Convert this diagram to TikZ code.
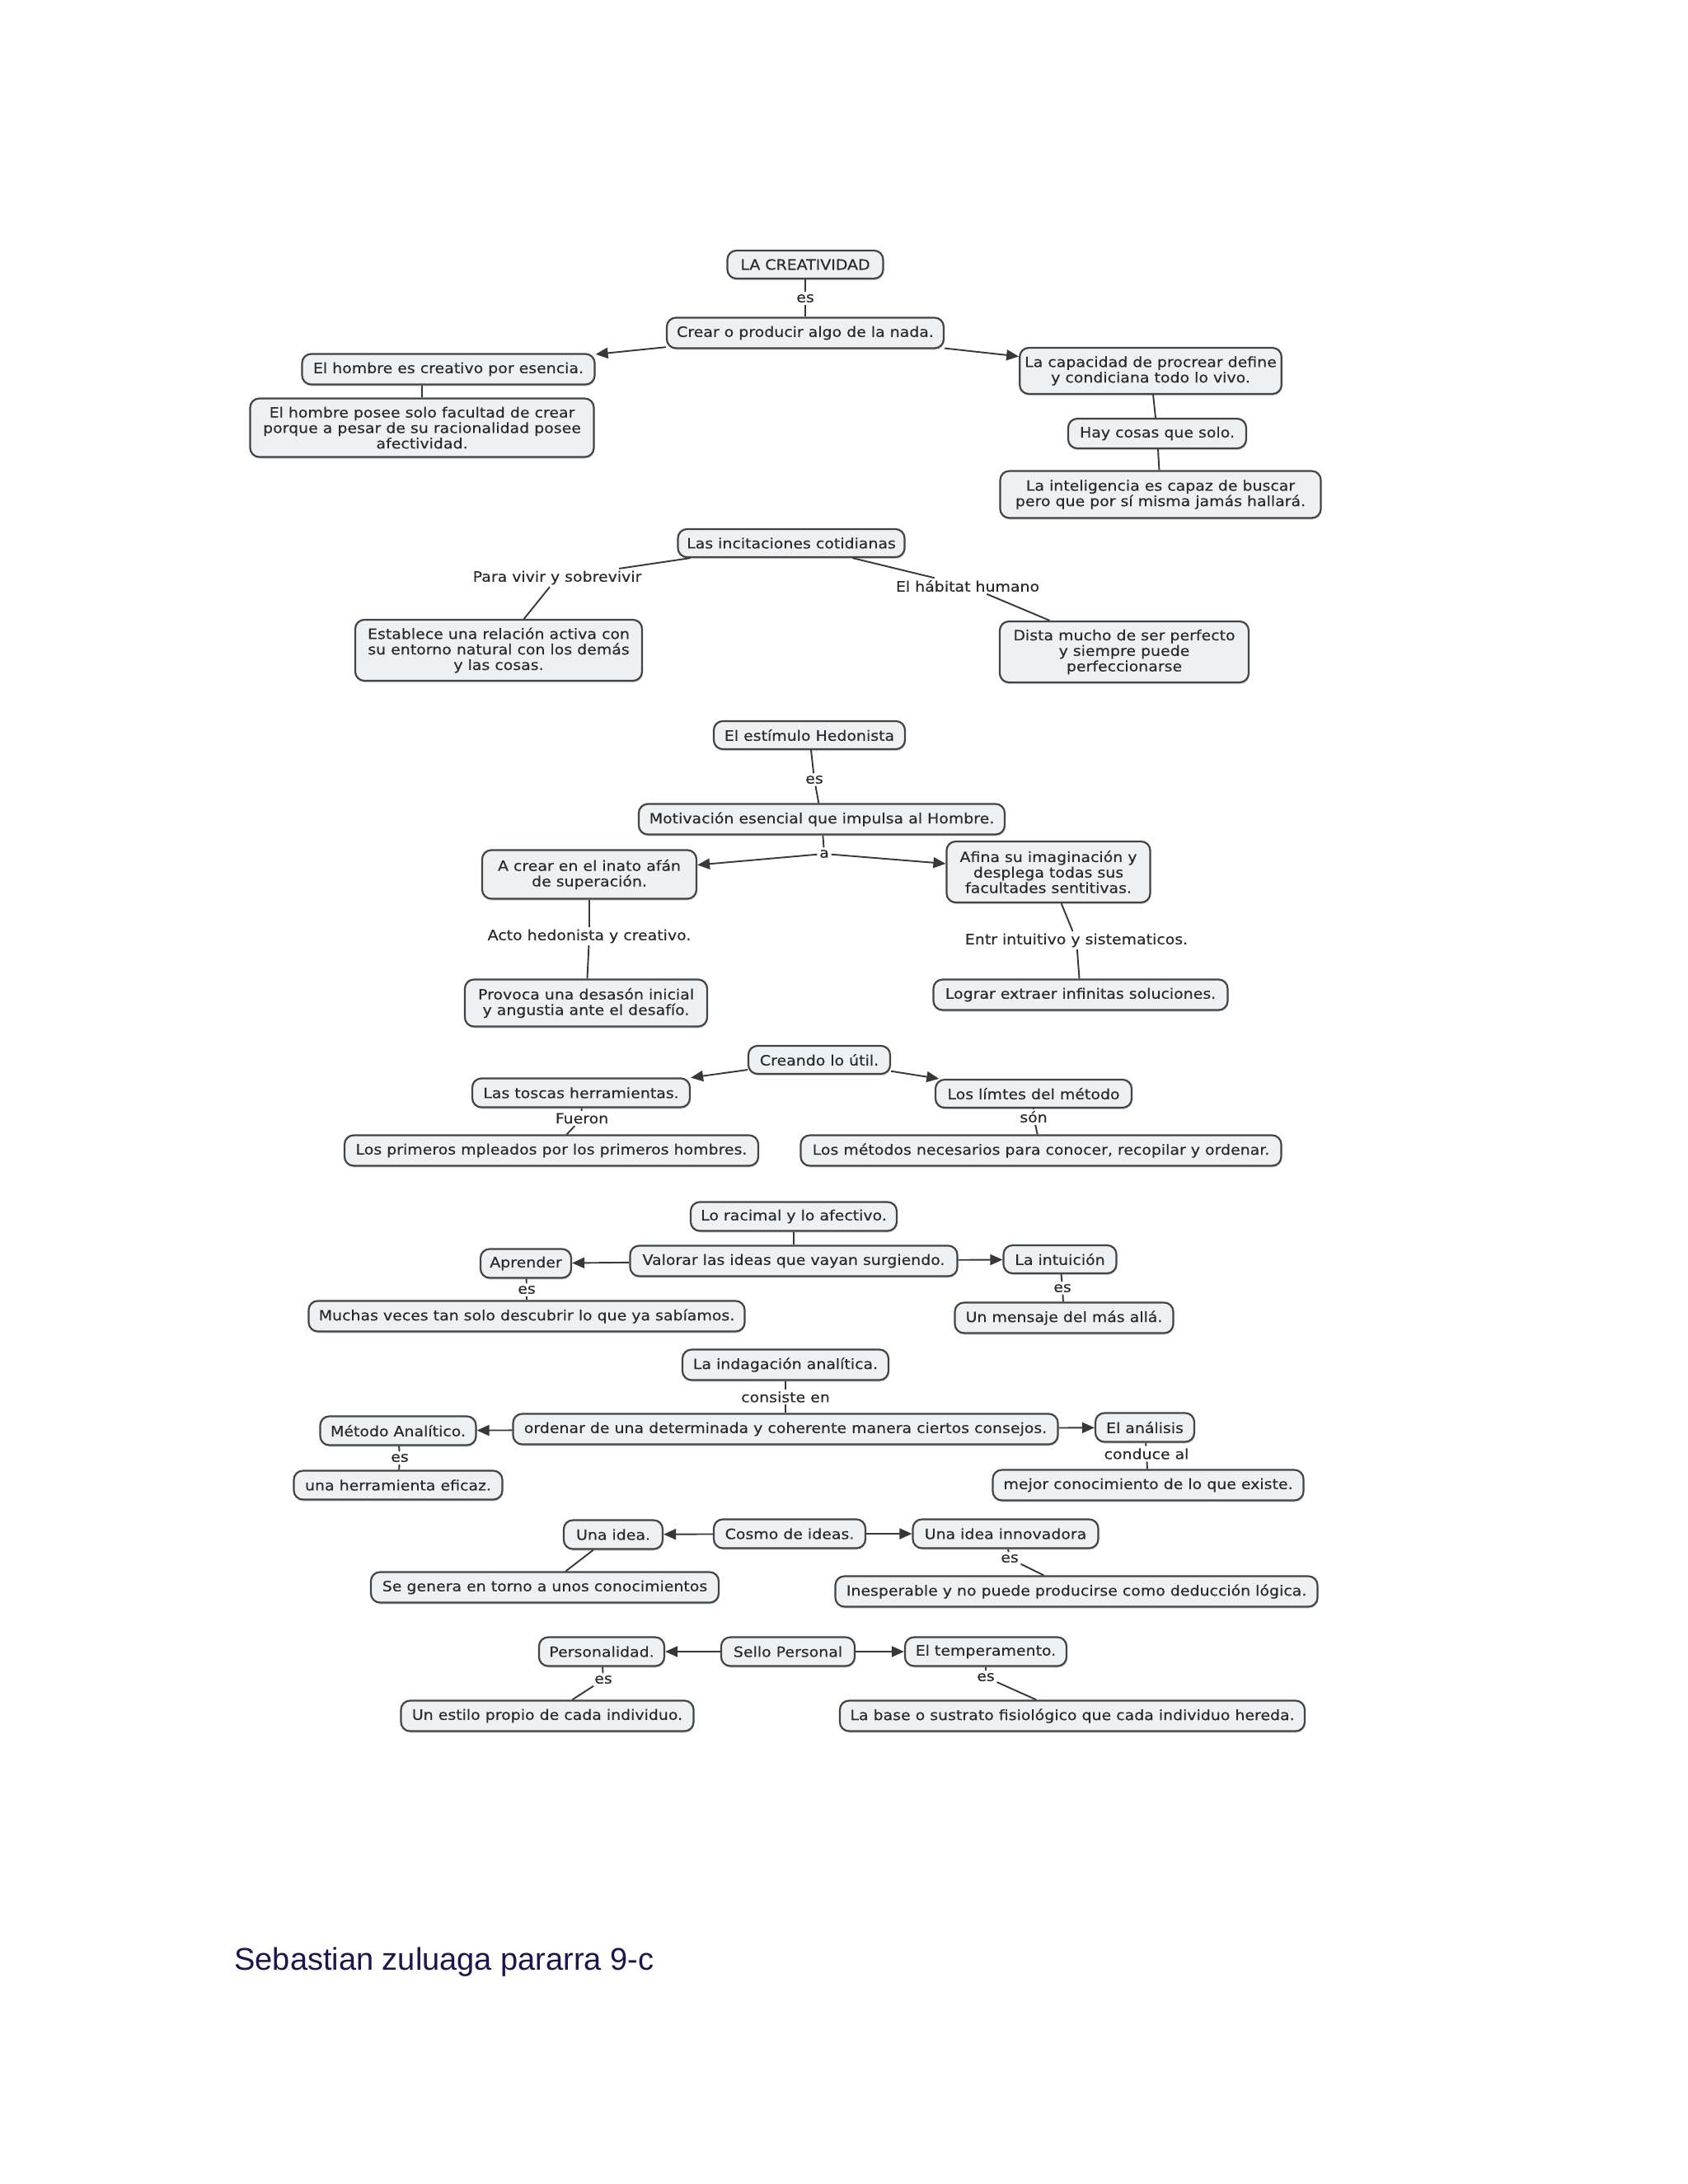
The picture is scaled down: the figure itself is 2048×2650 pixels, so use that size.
\documentclass[tikz,border=0pt]{standalone}
\usepackage{fontspec}
\setmainfont{DejaVu Sans}[FakeStretch=1.1,FakeBold=0.35]
\newfontfamily\footfont{Liberation Sans}
\usetikzlibrary{arrows.meta,shadows}
\definecolor{boxfill}{HTML}{EDF1F3}
\definecolor{boxline}{HTML}{444444}
\definecolor{txt}{HTML}{2A2A2A}
\definecolor{lnk}{HTML}{383838}
\definecolor{navy}{HTML}{1B1650}
\begin{document}
\begin{tikzpicture}[x=0.5pt,y=-0.5pt,
  cbox/.style={draw=boxline, fill=boxfill, line width=1.1pt, rounded corners=5.5pt,
    align=center, text=txt, inner xsep=3pt, inner ysep=1pt,
    font=\fontsize{8.6}{9.4}\selectfont,
    drop shadow={shadow xshift=0.4pt, shadow yshift=-1pt, opacity=0.35}},
  sz/.style 2 args={minimum width=#1*0.5pt, minimum height=#2*0.5pt},
  lbl/.style={text=txt, font=\fontsize{8.6}{9.4}\selectfont, inner sep=1.2pt},
  con/.style={draw=lnk, line width=0.95pt},
  arr/.style={con, -{Triangle[length=7.5pt,width=6.5pt]}}]
\fill[white] (0,0) rectangle (2048,2650);
\useasboundingbox (0,0) rectangle (2048,2650);

% ---------- Section 1
\node[cbox, sz={189}{34}] (c1) at (977,321) {LA CREATIVIDAD};
\node[lbl] (lc1) at (977,362) {es};
\node[cbox, sz={336}{37}] (c2) at (977,404) {Crear o producir algo de la nada.};
\node[cbox, sz={355}{37}] (c3) at (544,448) {El hombre es creativo por esencia.};
\node[cbox, sz={417}{71}] (c4) at (512,519) {El hombre posee solo facultad de crear\\porque a pesar de su racionalidad posee\\afectividad.};
\node[cbox, sz={299}{56}] (c5) at (1396,450) {La capacidad de procrear define\\y condiciana todo lo vivo.};
\node[cbox, sz={216}{36}] (c6) at (1404,526) {Hay cosas que solo.};
\node[cbox, sz={389}{57}] (c7) at (1408,600) {La inteligencia es capaz de buscar\\pero que por sí misma jamás hallará.};
\draw[con] (c1) -- (lc1);
\draw[con] (lc1) -- (c2);
\draw[arr] (c2) -- (c3);
\draw[arr] (c2) -- (c5);
\draw[con] (c4.north) -- (c4.north |- c3.south);
\draw[con] (c5) -- (c6);
\draw[con] (c6) -- (c7);

% ---------- Section 2
\node[cbox, sz={275}{34}] (d1) at (960,659) {Las incitaciones cotidianas};
\node[lbl] (ld1) at (676,701) {Para vivir y sobrevivir};
\node[cbox, sz={348}{74}] (d2) at (605,789) {Establece una relación activa con\\su entorno natural con los demás\\y las cosas.};
\node[lbl] (ld2) at (1174,711) {El hábitat humano};
\node[cbox, sz={302}{74}] (d3) at (1364,791) {Dista mucho de ser perfecto\\y siempre puede\\perfeccionarse};
\draw[con] (d1) -- (ld1);
\draw[con] (ld1) -- (d2);
\draw[con] (d1) -- (ld2);
\draw[con] (ld2) -- (d3);

% ---------- Section 3
\node[cbox, sz={232}{34}] (e1) at (982,892) {El estímulo Hedonista};
\node[lbl] (le1) at (988,946) {es};
\node[cbox, sz={444}{37}] (e2) at (997,994) {Motivación esencial que impulsa al Hombre.};
\node[lbl] (le2) at (1000,1036) {a};
\node[cbox, sz={260}{59}] (e3) at (715,1061) {A crear en el inato afán\\de superación.};
\node[cbox, sz={247}{74}] (e4) at (1272,1058) {Afina su imaginación y\\desplega todas sus\\facultades sentitivas.};
\node[lbl] (le3) at (715,1136) {Acto hedonista y creativo.};
\node[cbox, sz={294}{57}] (e5) at (711,1217) {Provoca una desasón inicial\\y angustia ante el desafío.};
\node[lbl] (le4) at (1306,1141) {Entr intuitivo y sistematicos.};
\node[cbox, sz={357}{37}] (e6) at (1311,1207) {Lograr extraer infinitas soluciones.};
\draw[con] (e1) -- (le1);
\draw[con] (le1) -- (e2);
\draw[con] (e2) -- (le2);
\draw[arr] (le2) -- (e3);
\draw[arr] (le2) -- (e4);
\draw[con] (e3) -- (le3);
\draw[con] (le3) -- (e5);
\draw[con] (e4) -- (le4);
\draw[con] (le4) -- (e6);

% ---------- Section 4
\node[cbox, sz={172}{34}] (f1) at (994,1286) {Creando lo útil.};
\node[cbox, sz={264}{35}] (f2) at (705,1326) {Las toscas herramientas.};
\node[cbox, sz={238}{34}] (f3) at (1254,1327) {Los límtes del método};
\node[lbl] (lf1) at (706,1357) {Fueron};
\node[lbl] (lf2) at (1254,1355) {són};
\node[cbox, sz={502}{37}] (f4) at (669,1396) {Los primeros mpleados por los primeros hombres.};
\node[cbox, sz={583}{37}] (f5) at (1263,1396) {Los métodos necesarios para conocer, recopilar y ordenar.};
\draw[arr] (f1) -- (f2);
\draw[arr] (f1) -- (f3);
\draw[con] (f2) -- (lf1);
\draw[con] (lf1) -- (f4);
\draw[con] (f3) -- (lf2);
\draw[con] (lf2) -- (f5);

% ---------- Section 5
\node[cbox, sz={250}{35}] (g1) at (963,1476) {Lo racimal y lo afectivo.};
\node[cbox, sz={397}{37}] (g2) at (963,1530) {Valorar las ideas que vayan surgiendo.};
\node[cbox, sz={110}{35}] (g3) at (638,1533) {Aprender};
\node[cbox, sz={137}{34}] (g4) at (1286,1528) {La intuición};
\node[lbl] (lg1) at (639,1565) {es};
\node[lbl] (lg2) at (1289,1563) {es};
\node[cbox, sz={529}{37}] (g5) at (639,1597) {Muchas veces tan solo descubrir lo que ya sabíamos.};
\node[cbox, sz={265}{37}] (g6) at (1291,1599) {Un mensaje del más allá.};
\draw[con] (g1) -- (g2);
\draw[arr] (g2) -- (g3);
\draw[arr] (g2) -- (g4);
\draw[con] (g3) -- (lg1);
\draw[con] (lg1) -- (g5);
\draw[con] (g4) -- (lg2);
\draw[con] (lg2) -- (g6);

% ---------- Section 6
\node[cbox, sz={250}{37}] (h1) at (953,1656) {La indagación analítica.};
\node[lbl] (lh1) at (953,1695) {consiste en};
\node[cbox, sz={661}{37}] (h2) at (953,1734) {ordenar de una determinada y coherente manera ciertos consejos.};
\node[cbox, sz={189}{35}] (h3) at (483,1736) {Método Analítico.};
\node[cbox, sz={120}{35}] (h4) at (1389,1732) {El análisis};
\node[lbl] (lh2) at (485,1769) {es};
\node[lbl] (lh3) at (1391,1764) {conduce al};
\node[cbox, sz={253}{35}] (h5) at (483,1802) {una herramienta eficaz.};
\node[cbox, sz={377}{37}] (h6) at (1393,1802) {mejor conocimiento de lo que existe.};
\draw[con] (h1) -- (lh1);
\draw[con] (lh1) -- (h2);
\draw[arr] (h2) -- (h3);
\draw[arr] (h2) -- (h4);
\draw[con] (h3) -- (lh2);
\draw[con] (lh2) -- (h5);
\draw[con] (h4) -- (lh3);
\draw[con] (lh3) -- (h6);

% ---------- Section 7
\node[cbox, sz={184}{35}] (i1) at (958,1861) {Cosmo de ideas.};
\node[cbox, sz={120}{35}] (i2) at (744,1862) {Una idea.};
\node[cbox, sz={225}{35}] (i3) at (1220,1861) {Una idea innovadora};
\node[cbox, sz={422}{37}] (i4) at (661,1926) {Se genera en torno a unos conocimientos};
\node[lbl] (li1) at (1225,1891) {es};
\node[cbox, sz={585}{37}] (i5) at (1306,1931) {Inesperable y no puede producirse como deducción lógica.};
\draw[arr] (i1) -- (i2);
\draw[arr] (i1) -- (i3);
\draw[con] (i2) -- (i4);
\draw[con] (i3) -- (li1);
\draw[con] (li1) -- (i5);

% ---------- Section 8
\node[cbox, sz={162}{35}] (j1) at (956,2004) {Sello Personal};
\node[cbox, sz={152}{35}] (j2) at (730,2004) {Personalidad.};
\node[cbox, sz={196}{35}] (j3) at (1196,2004) {El temperamento.};
\node[lbl] (lj1) at (732,2038) {es};
\node[lbl] (lj2) at (1196,2035) {es};
\node[cbox, sz={355}{37}] (j4) at (664,2082) {Un estilo propio de cada individuo.};
\node[cbox, sz={564}{37}] (j5) at (1301,2082) {La base o sustrato fisiológico que cada individuo hereda.};
\draw[arr] (j1) -- (j2);
\draw[arr] (j1) -- (j3);
\draw[con] (j2) -- (lj1);
\draw[con] (lj1) -- (j4);
\draw[con] (j3) -- (lj2);
\draw[con] (lj2) -- (j5);

% ---------- Footer
\node[anchor=west, inner sep=0pt, text=navy, font=\footfont\fontsize{19}{22}\selectfont] (foot) at (284,2381) {Sebastian zuluaga pararra 9-c};
\end{tikzpicture}
\end{document}
